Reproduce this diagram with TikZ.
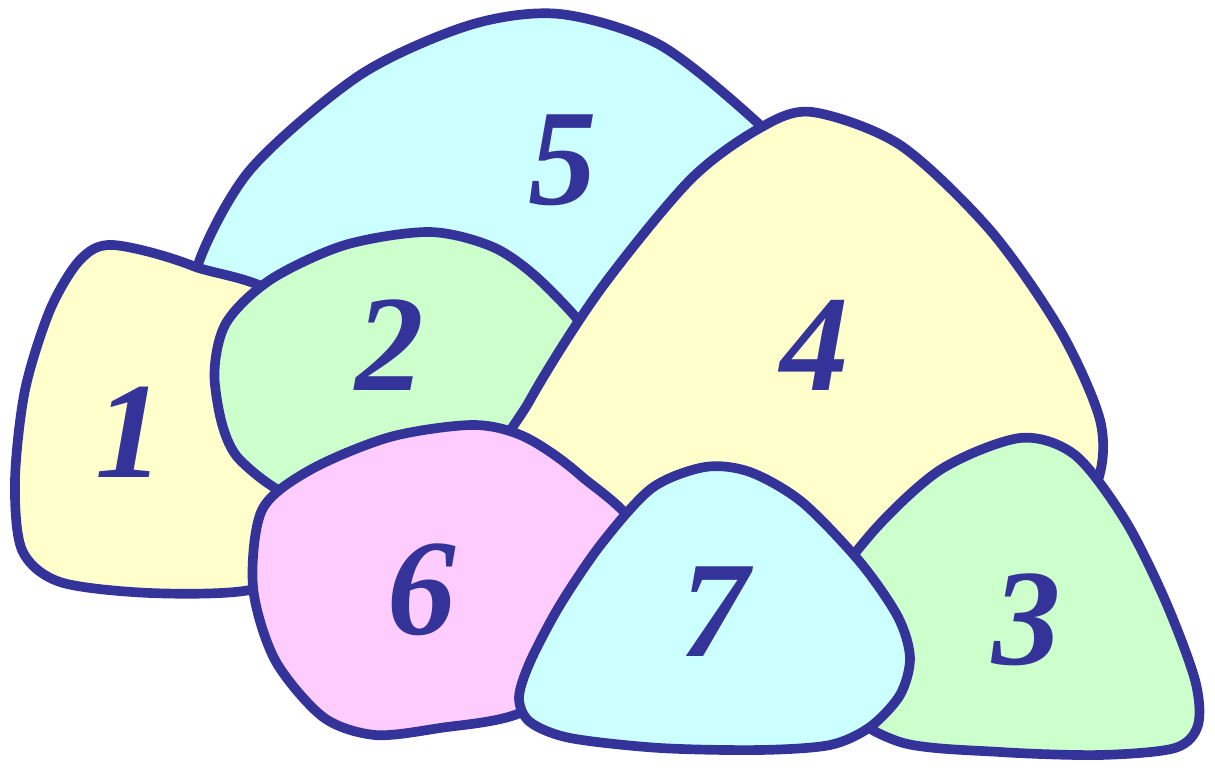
\documentclass[tikz,border=0pt]{standalone}
\usepackage{fontspec}
\setmainfont{Liberation Serif}
\usepackage{tikz}

\definecolor{inkblue}{HTML}{333399}
\definecolor{stoneyellow}{HTML}{FFFFCC}
\definecolor{stonecyan}{HTML}{CCFFFF}
\definecolor{stonegreen}{HTML}{CCFFCC}
\definecolor{stonepink}{HTML}{FFCCFF}

\begin{document}
\begin{tikzpicture}[
  x=0.02cm, y=-0.02cm,
  rock/.style={draw=inkblue, line width=5.5pt, line join=round},
  every node/.style={text=inkblue, font=\fontsize{78}{78}\selectfont\bfseries\itshape}
]
  \useasboundingbox (0,0) rectangle (1215,771);

  % stones, back to front
  \filldraw[rock, fill=stonecyan] plot[smooth cycle] coordinates {
    (197,268) (250,170) (360,75) (470,25) (560,14) (660,45) (760,125)
    (830,200) (700,330) (560,380) (400,320) (260,300) (215,300)};
  \filldraw[rock, fill=stoneyellow] plot[smooth cycle] coordinates {
    (113,245) (193,266) (300,320) (320,560) (250,590) (150,593)
    (60,582) (22,550) (15,480) (25,390) (50,310) (80,260)};
  \filldraw[rock, fill=stonegreen] plot[smooth cycle] coordinates {
    (430,232) (495,248) (545,285) (600,350) (620,430) (560,470)
    (340,510) (240,460) (215,385) (225,325) (270,280) (345,245)};
  \filldraw[rock, fill=stoneyellow] plot[smooth cycle] coordinates {
    (812,112) (900,145) (990,230) (1060,330) (1100,420) (1098,480)
    (1060,540) (880,600) (700,590) (600,560) (495,480) (530,400)
    (600,290) (690,180) (760,128)};
  \filldraw[rock, fill=stonepink] plot[smooth cycle] coordinates {
    (262,510) (310,470) (390,437) (473,425) (525,437) (580,475)
    (640,540) (600,660) (520,713) (440,728) (375,735) (323,717)
    (275,660) (253,587)};
  \filldraw[rock, fill=stonegreen] plot[smooth cycle] coordinates {
    (1020,438) (1075,455) (1125,520) (1165,600) (1195,680) (1198,725)
    (1175,748) (1100,755) (1000,752) (900,742) (840,700) (830,600)
    (870,535) (940,470)};
  \filldraw[rock, fill=stonecyan] plot[smooth cycle] coordinates {
    (705,467) (750,472) (802,502) (860,562) (898,617) (910,658)
    (900,695) (870,727) (830,745) (760,750) (660,748) (570,738)
    (530,722) (519,698) (530,662) (560,605) (602,543) (652,488)};

  % numbers
  \node (n5) at (563,160) {5};
  \node (n1) at (130,432) {1};
  \node (n2) at (390,345) {2};
  \node (n4) at (815,345) {4};
  \node (n6) at (422,590) {6};
  \node (n3) at (1027,620) {3};
  \node (n7) at (715,612) {7};
\end{tikzpicture}
\end{document}
